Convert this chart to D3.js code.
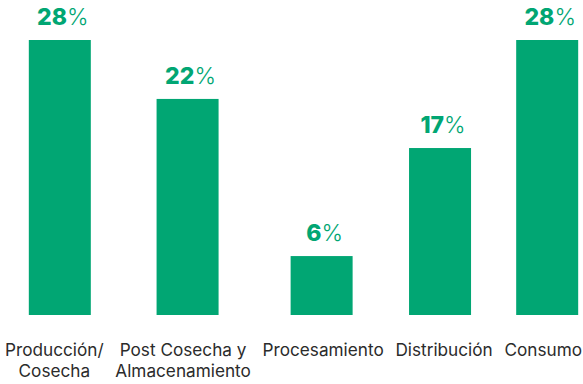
<!DOCTYPE html>
<html><head><meta charset="utf-8">
<script src="https://cdn.jsdelivr.net/npm/d3@7"></script>
<style>body{margin:0;background:#fff}svg{display:block}</style>
</head><body>
<svg id="c" width="583" height="384"></svg>
<script>
const categories = [["Producción/","Cosecha"],["Post Cosecha y","Almacenamiento"],["Procesamiento"],["Distribución"],["Consumo"]];
const values = [28, 22, 6, 17, 28];

const W = 583, H = 384;
const green = "#01a673";
const svg = d3.select("#c");
const font = "Inter, 'Noto Sans', sans-serif";

// category labels laid out in a row, spread across the width
const lab = svg.append("g").attr("font-family", font).attr("font-size", 17.2).attr("fill", "#2b2b2b");
const groups = categories.map(lines => {
  const t = lab.append("text").attr("text-anchor", "middle");
  lines.forEach((s, i) => t.append("tspan").attr("x", 0).attr("y", 356 + i * 21).text(s));
  return t;
});
const widths = groups.map(t => t.node().getBBox().width);
const left = 5, right = 582;
const gap = (right - left - d3.sum(widths)) / (widths.length - 1);
let cx = left;
const centers = widths.map(w => { const c = cx + w / 2; cx += w + gap; return c; });
groups.forEach((t, i) => t.attr("transform", `translate(${centers[i]},0)`));

const x = d3.scaleOrdinal().domain(d3.range(values.length)).range(centers.map((c, i) => c + [5.5, 4.5, -1.5, -4, 4][i]));
const y = d3.scaleLinear().domain([0, 28]).range([315, 40]);
const bw = 62;

svg.append("g").selectAll("rect").data(values).join("rect")
  .attr("x", (d, i) => x(i) - bw / 2).attr("width", bw)
  .attr("y", d => y(d)).attr("height", d => y(0) - y(d))
  .attr("fill", green);

const vl = svg.append("g").attr("font-family", font).attr("font-size", 23).attr("fill", green);
values.forEach((d, i) => {
  const t = vl.append("text").attr("x", x(i) + 3).attr("y", y(d) - 15).attr("text-anchor", "middle");
  t.append("tspan").attr("font-weight", 800).text(d);
  t.append("tspan").attr("font-weight", 300).text("%");
});
</script>
</body></html>
